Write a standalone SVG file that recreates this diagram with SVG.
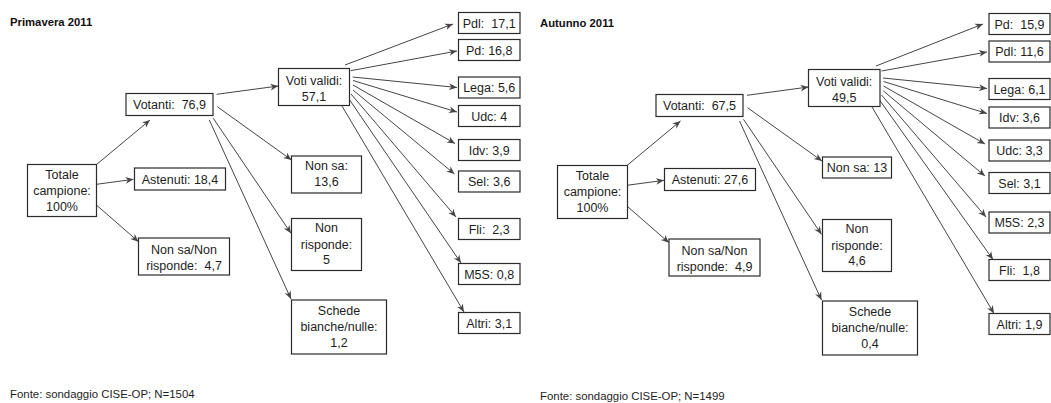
<svg xmlns="http://www.w3.org/2000/svg" width="1051" height="403" viewBox="0 0 1051 403" xml:space="preserve">
<style>
.bg{fill:#ffffff}
.box{fill:#ffffff;stroke:#2b2b2b;stroke-width:1.2}
.t{font-family:"Liberation Sans",Arial,sans-serif;font-size:12.5px;fill:#1e1e1e;text-anchor:middle;white-space:pre}
.title{font-family:"Liberation Sans",Arial,sans-serif;font-size:11.3px;font-weight:bold;fill:#111}
.foot{font-family:"Liberation Sans",Arial,sans-serif;font-size:11.4px;fill:#1e1e1e;white-space:pre}
.c line{stroke:#454545;stroke-width:1;marker-end:url(#ah)}
</style>
<defs>
<marker id="ah" viewBox="0 0 10 10" refX="10" refY="5" markerWidth="8" markerHeight="8" markerUnits="userSpaceOnUse" orient="auto">
<path d="M0,0.8 L10,5 L0,9.2 L3,5 z" fill="#454545"/>
</marker>
</defs>
<rect class="bg" x="0" y="0" width="1051" height="403"/>

<text class="title" x="10" y="26">Primavera 2011</text>
<text class="title" x="540" y="27">Autunno  2011</text>
<text class="foot" x="10" y="398">Fonte: sondaggio CISE-OP; N=1504</text>
<text class="foot" x="540" y="400">Fonte: sondaggio CISE-OP; N=1499</text>

<g id="connectors" class="c">
<!-- left -->
<line x1="96.5" y1="164.5" x2="150" y2="120"/>
<line x1="95" y1="184.5" x2="133.5" y2="179.3"/>
<line x1="93.5" y1="202.5" x2="138.5" y2="241.7"/>
<line x1="216.7" y1="94.3" x2="278.3" y2="86"/>
<line x1="217.3" y1="106.7" x2="291.5" y2="160"/>
<line x1="213.3" y1="118.3" x2="291" y2="233.3"/>
<line x1="209.3" y1="120" x2="291" y2="299"/>
<line x1="345" y1="65" x2="453" y2="24"/>
<line x1="350.7" y1="70.7" x2="457" y2="51"/>
<line x1="352.7" y1="77" x2="457" y2="87.5"/>
<line x1="353" y1="80.5" x2="457" y2="112"/>
<line x1="353" y1="85" x2="455" y2="143.5"/>
<line x1="353" y1="90" x2="454.5" y2="174"/>
<line x1="351" y1="94" x2="456" y2="217"/>
<line x1="349" y1="99" x2="461" y2="263"/>
<line x1="342" y1="106" x2="464" y2="312"/>
<!-- right -->
<line x1="627" y1="165.5" x2="680.5" y2="121"/>
<line x1="625.5" y1="185.5" x2="664" y2="180.3"/>
<line x1="624" y1="203.5" x2="669" y2="242.7"/>
<line x1="747" y1="95.3" x2="808.5" y2="87"/>
<line x1="747.5" y1="107.7" x2="822" y2="161"/>
<line x1="743.5" y1="119.3" x2="821.5" y2="234.3"/>
<line x1="739.5" y1="121" x2="821.5" y2="300"/>
<line x1="876" y1="66" x2="983" y2="24"/>
<line x1="881.5" y1="71" x2="987" y2="52"/>
<line x1="883" y1="78" x2="987" y2="88.5"/>
<line x1="883.5" y1="81.5" x2="987" y2="113.5"/>
<line x1="883.5" y1="86" x2="985" y2="144"/>
<line x1="883.5" y1="91" x2="985" y2="176"/>
<line x1="881.5" y1="95" x2="986" y2="217"/>
<line x1="879.5" y1="100" x2="993" y2="259.5"/>
<line x1="872" y1="107" x2="994" y2="313.5"/>
</g>

<!-- LEFT TREE -->
<g id="l-totale"><rect class="box" x="27.5" y="164.5" width="69" height="52"/>
<text class="t" x="62" y="178.5">Totale</text><text class="t" x="62" y="194.5">campione:</text><text class="t" x="62" y="210.5">100%</text></g>
<g id="l-votanti"><rect class="box" x="126" y="93.5" width="87" height="22"/>
<text class="t" x="169.5" y="108.8">Votanti:  76,9</text></g>
<g id="l-astenuti"><rect class="box" x="134.5" y="168" width="91" height="22"/>
<text class="t" x="180" y="183.8">Astenuti: 18,4</text></g>
<g id="l-nsnr"><rect class="box" x="138.5" y="238" width="91" height="37"/>
<text class="t" x="184" y="253.5">Non sa/Non</text><text class="t" x="184" y="269.5">risponde:  4,7</text></g>
<g id="l-validi"><rect class="box" x="278.5" y="68.5" width="71" height="37"/>
<text class="t" x="314" y="84.5">Voti validi:</text><text class="t" x="314" y="101">57,1</text></g>
<g id="l-nonsa"><rect class="box" x="291.5" y="156" width="70" height="37"/>
<text class="t" x="326.5" y="170">Non sa:</text><text class="t" x="326.5" y="186">13,6</text></g>
<g id="l-nonrisp"><rect class="box" x="291.5" y="218.5" width="70" height="52"/>
<text class="t" x="326.5" y="232">Non</text><text class="t" x="326.5" y="248.5">risponde:</text><text class="t" x="326.5" y="264">5</text></g>
<g id="l-schede"><rect class="box" x="291.5" y="300" width="95" height="54"/>
<text class="t" x="339" y="315">Schede</text><text class="t" x="339" y="331">bianche/nulle:</text><text class="t" x="339" y="347">1,2</text></g>
<g id="l-pdl"><rect class="box" x="458.5" y="12.5" width="61.5" height="21"/><text class="t" x="489.2" y="27.5">Pdl:  17,1</text></g>
<g id="l-pd"><rect class="box" x="458.5" y="39.5" width="61.5" height="21"/><text class="t" x="489.2" y="54.5">Pd: 16,8</text></g>
<g id="l-lega"><rect class="box" x="458.5" y="77" width="61.5" height="21"/><text class="t" x="489.2" y="92">Lega: 5,6</text></g>
<g id="l-udc"><rect class="box" x="458.5" y="105.5" width="61.5" height="21"/><text class="t" x="489.2" y="120.5">Udc: 4</text></g>
<g id="l-idv"><rect class="box" x="458.5" y="139.5" width="61.5" height="21"/><text class="t" x="489.2" y="154.5">Idv: 3,9</text></g>
<g id="l-sel"><rect class="box" x="458.5" y="171" width="61.5" height="21"/><text class="t" x="489.2" y="186">Sel: 3,6</text></g>
<g id="l-fli"><rect class="box" x="458.5" y="218.5" width="61.5" height="21"/><text class="t" x="489.2" y="233.5">Fli:  2,3</text></g>
<g id="l-m5s"><rect class="box" x="458.5" y="263.5" width="61.5" height="21"/><text class="t" x="489.2" y="278.5">M5S: 0,8</text></g>
<g id="l-altri"><rect class="box" x="458.5" y="312.5" width="61.5" height="21"/><text class="t" x="489.2" y="327.5">Altri: 3,1</text></g>

<!-- RIGHT TREE -->
<g id="r-totale"><rect class="box" x="557.5" y="165.5" width="70" height="53"/>
<text class="t" x="592.5" y="179.5">Totale</text><text class="t" x="592.5" y="195.5">campione:</text><text class="t" x="592.5" y="211.5">100%</text></g>
<g id="r-votanti"><rect class="box" x="656" y="94.5" width="87" height="22"/>
<text class="t" x="699.5" y="109.8">Votanti:  67,5</text></g>
<g id="r-astenuti"><rect class="box" x="664.5" y="168.5" width="91" height="22"/>
<text class="t" x="710" y="184.3">Astenuti: 27,6</text></g>
<g id="r-nsnr"><rect class="box" x="669" y="239" width="91" height="37"/>
<text class="t" x="714.5" y="254.5">Non sa/Non</text><text class="t" x="714.5" y="270.5">risponde:  4,9</text></g>
<g id="r-validi"><rect class="box" x="808.5" y="69.5" width="71.5" height="37"/>
<text class="t" x="844.2" y="85.5">Voti validi:</text><text class="t" x="844.2" y="102">49,5</text></g>
<g id="r-nonsa"><rect class="box" x="822.5" y="157" width="69" height="21"/>
<text class="t" x="857" y="171.8">Non sa: 13</text></g>
<g id="r-nonrisp"><rect class="box" x="822.5" y="219.5" width="69" height="52"/>
<text class="t" x="857" y="233">Non</text><text class="t" x="857" y="249.5">risponde:</text><text class="t" x="857" y="265">4,6</text></g>
<g id="r-schede"><rect class="box" x="822.5" y="301" width="95" height="54"/>
<text class="t" x="870" y="316">Schede</text><text class="t" x="870" y="332">bianche/nulle:</text><text class="t" x="870" y="348">0,4</text></g>
<g id="r-pd"><rect class="box" x="989" y="13.5" width="61" height="21"/><text class="t" x="1019.5" y="28.5">Pd:  15,9</text></g>
<g id="r-pdl"><rect class="box" x="989" y="41" width="61" height="21"/><text class="t" x="1019.5" y="56">Pdl: 11,6</text></g>
<g id="r-lega"><rect class="box" x="989" y="78.5" width="61" height="21"/><text class="t" x="1019.5" y="93.5">Lega: 6,1</text></g>
<g id="r-idv"><rect class="box" x="989" y="107" width="61" height="21"/><text class="t" x="1019.5" y="122">Idv: 3,6</text></g>
<g id="r-udc"><rect class="box" x="989" y="140" width="61" height="21"/><text class="t" x="1019.5" y="155">Udc: 3,3</text></g>
<g id="r-sel"><rect class="box" x="989" y="172.5" width="61" height="21"/><text class="t" x="1019.5" y="187.5">Sel: 3,1</text></g>
<g id="r-m5s"><rect class="box" x="989" y="212" width="61" height="21"/><text class="t" x="1019.5" y="227">M5S: 2,3</text></g>
<g id="r-fli"><rect class="box" x="989" y="259.5" width="61" height="21"/><text class="t" x="1019.5" y="274.5">Fli:  1,8</text></g>
<g id="r-altri"><rect class="box" x="989" y="313.5" width="61" height="21"/><text class="t" x="1019.5" y="328.5">Altri: 1,9</text></g>
</svg>
